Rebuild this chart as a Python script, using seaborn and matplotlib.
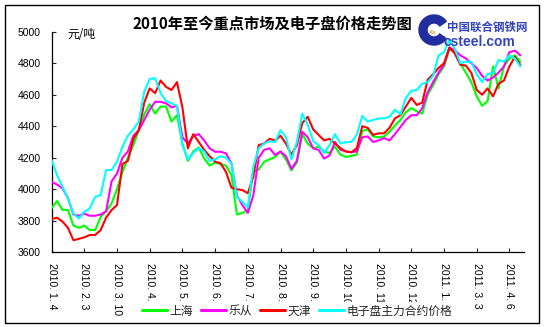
import numpy as np
import pandas as pd
import matplotlib
matplotlib.use("Agg")
import matplotlib.pyplot as plt
import matplotlib.transforms as mtransforms
from matplotlib.patches import Rectangle, Wedge
from matplotlib.lines import Line2D
import seaborn as sns

title = "2010年至今重点市场及电子盘价格走势图"
unit_label = "元/吨"
tick_labels = ["2010. 1. 4", "2010. 2. 3", "2010. 3. 10", "2010. 4.", "2010. 5.",
               "2010. 6.", "2010. 7.", "2010. 8.", "2010. 9.", "2010. 10.",
               "2010. 11.", "2010. 12.", "2011. 1.", "2011. 3. 3", "2011. 4. 6"]
series_names = ["上海", "乐从", "天津", "电子盘主力合约价格"]
series_colors = ["#00FF00", "#FF00FF", "#FF0000", "#00FFFF"]

shanghai = [3880, 3925, 3870, 3868, 3770, 3755, 3770, 3741, 3741, 3825,
            3860, 3910, 4000, 4110, 4200, 4280, 4375, 4475, 4540, 4480,
            4525, 4525, 4430, 4470, 4290, 4180, 4240, 4265, 4195, 4150,
            4170, 4160, 4150, 4090, 3840, 3850, 3870, 4110, 4125, 4175,
            4190, 4205, 4238, 4190, 4120, 4170, 4350, 4290, 4260, 4270,
            4240, 4230, 4270, 4220, 4205, 4212, 4220, 4370, 4380, 4335,
            4330, 4335, 4365, 4405, 4440, 4490, 4515, 4495, 4480, 4600,
            4660, 4730, 4780, 4890, 4870, 4800, 4740, 4680, 4590, 4530,
            4560, 4780, 4640, 4780, 4830, 4850, 4810]
lecong = [4048, 4030, 4006, 3945, 3840, 3832, 3845, 3832, 3832, 3840,
          3860, 4050, 4100, 4200, 4240, 4340, 4375, 4440, 4505, 4555,
          4555, 4545, 4520, 4530, 4330, 4290, 4340, 4350, 4310, 4260,
          4238, 4238, 4228, 4164, 3960, 3900, 3850, 3960, 4200, 4250,
          4260, 4218, 4240, 4210, 4130, 4180, 4365, 4330, 4260, 4250,
          4195, 4215, 4300, 4250, 4240, 4235, 4240, 4330, 4335, 4300,
          4310, 4325, 4310, 4350, 4395, 4440, 4470, 4470, 4515, 4615,
          4680, 4740, 4790, 4900, 4880, 4850, 4830, 4800, 4770, 4720,
          4690, 4710, 4740, 4780, 4870, 4880, 4850]
tianjin = [3810, 3820, 3795, 3755, 3677, 3685, 3695, 3710, 3710, 3741,
           3820, 3868, 3900, 4160, 4180, 4320, 4375, 4550, 4640, 4610,
           4690, 4650, 4630, 4680, 4520, 4260, 4350, 4300, 4250, 4210,
           4175, 4165, 4110, 4010, 4000, 3995, 3975, 4080, 4280, 4290,
           4320, 4310, 4340, 4290, 4220, 4280, 4420, 4460, 4380, 4345,
           4310, 4320, 4290, 4260, 4240, 4235, 4260, 4400, 4390, 4345,
           4355, 4355, 4390, 4450, 4470, 4525, 4580, 4535, 4550, 4695,
           4730, 4770, 4800, 4900, 4860, 4790, 4785, 4740, 4630, 4600,
           4640, 4590, 4670, 4690, 4780, 4840, 4790]
dianzipan = [4185, 4090, 4016, 3942, 3846, 3815, 3857, 3879, 3952, 3963,
             4122, 4122, 4175, 4270, 4340, 4380, 4430, 4620, 4700, 4705,
             4610, 4560, 4545, 4530, 4280, 4190, 4230, 4260, 4240, 4180,
             4190, 4210, 4200, 4165, 3950, 3920, 3885, 4140, 4260, 4290,
             4305, 4300, 4375, 4330, 4190, 4300, 4480, 4410, 4305, 4280,
             4230, 4280, 4350, 4290, 4300, 4300, 4345, 4465, 4430, 4440,
             4450, 4450, 4460, 4505, 4475, 4580, 4625, 4630, 4670, 4680,
             4720, 4850, 4870, 4950, 4890, 4800, 4810, 4810, 4730, 4680,
             4730, 4740, 4820, 4810, 4850, 4830, 4780]

y_ticks = [3600, 3800, 4000, 4200, 4400, 4600, 4800, 5000]
label_every = 6

values = [shanghai, lecong, tianjin, dianzipan]
n = len(shanghai)
df = pd.concat([pd.DataFrame({"idx": np.arange(n), "price": v, "series": name})
                for name, v in zip(series_names, values)], ignore_index=True)

sns.set_theme(style="white")
plt.rcParams["font.family"] = ["Liberation Sans", "Noto Sans CJK SC", "DejaVu Sans"]

W, H = 545, 327
fig = plt.figure(figsize=(W / 100, H / 100), dpi=100)
fig.patch.set_facecolor("white")
ax = fig.add_axes([51.6 / W, 1 - 252.3 / H, (524.4 - 51.6) / W, (252.3 - 31.7) / H])
ax.set_facecolor("white")

sns.lineplot(data=df, x="idx", y="price", hue="series", hue_order=series_names,
             palette=series_colors, linewidth=1.5, estimator=None, legend=False,
             ax=ax, zorder=3)

ax.set_xlim(0, 86.75)
ax.set_ylim(3600, 5000)
ax.set_yticks(y_ticks)
ax.set_yticklabels([str(t) for t in y_ticks], fontsize=7.5, color="black")
ax.set_xticks(np.arange(0, label_every * len(tick_labels), label_every))
ax.set_xticklabels(tick_labels, rotation=270, fontsize=7.5, color="black")
ax.tick_params(axis="y", direction="in", length=3, width=0.8, pad=8, left=True)
ax.tick_params(axis="x", direction="in", length=3, width=0.8, pad=7.4, bottom=True)
ax.set_xlabel("")
ax.set_ylabel("")
for s in ["top", "right"]:
    ax.spines[s].set_visible(False)
for s in ["left", "bottom"]:
    ax.spines[s].set_color("black")
    ax.spines[s].set_linewidth(0.9)

# unit label
fig.text(67 / W, 1 - 35 / H, unit_label, ha="left", va="center", fontsize=8.5,
         family=["Noto Sans CJK SC", "DejaVu Sans"], color="black")

# title
fig.text(272 / W, 1 - 24 / H, title, ha="center", va="center", fontsize=11,
         fontweight="bold", family=["Noto Sans CJK SC", "DejaVu Sans"], color="black")

# logo (site watermark)
pix = mtransforms.IdentityTransform()
fig.add_artist(Wedge((434, H - 30), 15, 35, 325, width=8, transform=pix,
                     color="#1f2d9e", zorder=1))
fig.text(433 / W, 1 - 33 / H, "Xx", ha="center", va="center", fontsize=4.5,
         color="#e8a040", fontweight="bold")
fig.text(447 / W, 1 - 27 / H, "中国联合钢铁网", ha="left", va="center", fontsize=8.3,
         fontweight="bold", family=["Noto Sans CJK SC", "DejaVu Sans"], color="#3444bb")
fig.text(444 / W, 1 - 42 / H, "csteel.com", ha="left", va="center", fontsize=10,
         fontweight="bold", color="#3444bb")

# legend
handles = [Line2D([0], [0], color=c, lw=2.2) for c in series_colors]
leg = fig.legend(handles, series_names, loc="center", bbox_to_anchor=(297 / W, 1 - 311 / H),
                 ncol=4, fontsize=8.5, frameon=True, fancybox=False, handlelength=2.1,
                 handletextpad=0.2, columnspacing=0.7, borderpad=0.25, borderaxespad=0)
leg.get_frame().set_facecolor("white")
leg.get_frame().set_edgecolor("white")
leg.get_frame().set_alpha(1)
for t in leg.get_texts():
    t.set_family(["Noto Sans CJK SC", "DejaVu Sans"])

# outer frame
fig.add_artist(Rectangle((5 / W, 1 - 323 / H), (539 - 5) / W, (323 - 5) / H,
                         transform=fig.transFigure, fill=False, edgecolor="black",
                         linewidth=1.0, zorder=0))

fig.savefig("out.png", dpi=100, facecolor="white")
